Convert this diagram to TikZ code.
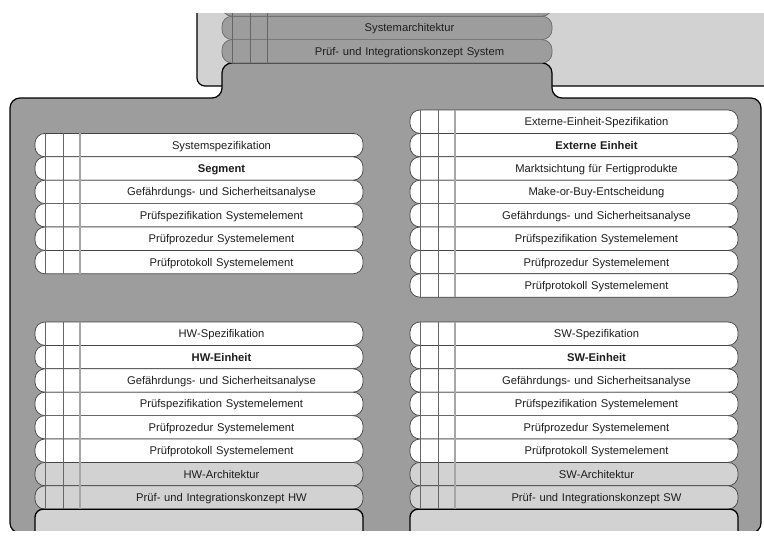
\documentclass[tikz,border=0pt]{standalone}
\usepackage{fontspec}
\setmainfont{Liberation Sans}
\usepackage{tikz}
\usetikzlibrary{positioning}
\definecolor{bodygray}{HTML}{9D9D9D}
\definecolor{panelight}{HTML}{D2D2D2}
\definecolor{rowline}{HTML}{454545}
\definecolor{textcol}{HTML}{1E1E1E}
\tikzstyle{row} = [draw=rowline, line width=0.7pt, fill=white, rounded corners=10pt,
  minimum height=23.4pt, text width=328pt, inner xsep=0pt, inner ysep=0pt, outer sep=0pt,
  align=center, text height=8pt, text depth=0pt, text=textcol,
  font=\fontsize{11.2}{13}\selectfont, execute at begin node=\hspace*{45pt}]
\tikzstyle{rowgray} = [row, fill=panelight]
\tikzstyle{rowdark} = [row, fill=bodygray, draw=rowline!80, text width=330pt]
\tikzstyle{basebox} = [draw=black, line width=1.3pt, fill=panelight, rounded corners=8pt,
  minimum width=328pt, minimum height=30pt, outer sep=0pt]
\tikzstyle{vline} = [draw=black!60, line width=0.8pt]
\tikzstyle{vlinelight} = [draw=black!35, line width=1.5pt]

\begin{document}
\begin{tikzpicture}[x=1pt, y=-1pt]
    \useasboundingbox (0,0) rectangle (764,536);
    \clip (0,13) rectangle (764,530);

    % upper frame and main frame with tab
    \filldraw[fill=panelight, draw=black, line width=1.2pt, rounded corners=8pt] (197,-10) rectangle (790,86);
    \filldraw[fill=bodygray, draw=black, line width=1.2pt, rounded corners=10pt]
        (10,533) -- (10,98) -- (222,98) -- (222,63) -- (552,63) -- (552,98) -- (761,98) -- (761,533) -- cycle;

    % tab
    \node[rowdark, anchor=south west] (t2) at (222,63) {Prüf- und Integrationskonzept System};
    \node[rowdark, above=0pt of t2] (t1) {Systemarchitektur};
    \node[rowdark, above=0pt of t1] (t0) {};

    % segment
    \node[row, anchor=north west] (s1) at (35,133.4) {Systemspezifikation};
    \node[row, below=0pt of s1] (s2) {\textbf{Segment}};
    \node[row, below=0pt of s2] (s3) {Gefährdungs- und Sicherheitsanalyse};
    \node[row, below=0pt of s3] (s4) {Prüfspezifikation Systemelement};
    \node[row, below=0pt of s4] (s5) {Prüfprozedur Systemelement};
    \node[row, below=0pt of s5] (s6) {Prüfprotokoll Systemelement};

    % externe einheit
    \node[row, anchor=north west] (e1) at (410,110) {Externe-Einheit-Spezifikation};
    \node[row, below=0pt of e1] (e2) {\textbf{Externe Einheit}};
    \node[row, below=0pt of e2] (e3) {Marktsichtung für Fertigprodukte};
    \node[row, below=0pt of e3] (e4) {Make-or-Buy-Entscheidung};
    \node[row, below=0pt of e4] (e5) {Gefährdungs- und Sicherheitsanalyse};
    \node[row, below=0pt of e5] (e6) {Prüfspezifikation Systemelement};
    \node[row, below=0pt of e6] (e7) {Prüfprozedur Systemelement};
    \node[row, below=0pt of e7] (e8) {Prüfprotokoll Systemelement};

    % hw einheit
    \node[row, anchor=north west] (h1) at (35,322) {HW-Spezifikation};
    \node[row, below=0pt of h1] (h2) {\textbf{HW-Einheit}};
    \node[row, below=0pt of h2] (h3) {Gefährdungs- und Sicherheitsanalyse};
    \node[row, below=0pt of h3] (h4) {Prüfspezifikation Systemelement};
    \node[row, below=0pt of h4] (h5) {Prüfprozedur Systemelement};
    \node[row, below=0pt of h5] (h6) {Prüfprotokoll Systemelement};
    \node[rowgray, below=0pt of h6] (h7) {HW-Architektur};
    \node[rowgray, below=0pt of h7] (h8) {Prüf- und Integrationskonzept HW};
    \node[basebox, below=0pt of h8] (hb) {};

    % sw einheit
    \node[row, anchor=north west] (w1) at (410,322) {SW-Spezifikation};
    \node[row, below=0pt of w1] (w2) {\textbf{SW-Einheit}};
    \node[row, below=0pt of w2] (w3) {Gefährdungs- und Sicherheitsanalyse};
    \node[row, below=0pt of w3] (w4) {Prüfspezifikation Systemelement};
    \node[row, below=0pt of w4] (w5) {Prüfprozedur Systemelement};
    \node[row, below=0pt of w5] (w6) {Prüfprotokoll Systemelement};
    \node[rowgray, below=0pt of w6] (w7) {SW-Architektur};
    \node[rowgray, below=0pt of w7] (w8) {Prüf- und Integrationskonzept SW};
    \node[basebox, below=0pt of w8] (wb) {};

    % column lines
    \foreach \a/\b/\c in {t0/t2/vline, s1/s6/vlinelight, e1/e8/vlinelight, h1/h8/vlinelight, w1/w8/vlinelight} {
        \draw[vline] ([xshift=10pt]\a.north west) -- ([xshift=10pt]\b.south west);
        \draw[vline] ([xshift=28pt]\a.north west) -- ([xshift=28pt]\b.south west);
        \draw[\c] ([xshift=45pt]\a.north west) -- ([xshift=45pt]\b.south west);
    }
\end{tikzpicture}
\end{document}
